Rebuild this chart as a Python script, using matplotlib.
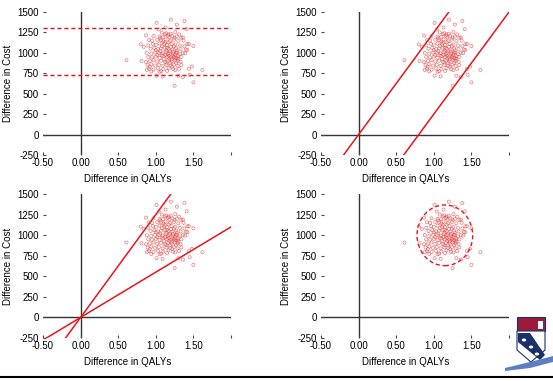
import matplotlib
matplotlib.use("Agg")
import matplotlib.pyplot as plt
from matplotlib.patches import Ellipse, Rectangle, Polygon, Circle

plt.rcParams['font.family'] = ['Liberation Sans', 'DejaVu Sans']

# simulated incremental QALYs / costs (same cloud in every panel)
qaly = [0.61, 0.81, 0.80, 0.84, 0.87, 0.88, 0.91, 1.01, 1.04, 1.20, 1.28, 1.38, 1.41, 1.36, 1.42, 1.44, 1.50,
        1.42, 1.39, 1.44, 1.48, 1.62, 1.50, 1.25, 1.36, 1.30, 1.09, 1.01, 0.94, 1.05, 1.45, 1.23, 1.13, 1.17,
        1.08, 1.14, 1.20, 1.26, 1.12, 1.31,
        0.97, 1.05, 1.10, 1.16, 1.22, 1.28, 1.18, 1.34,
        0.95, 1.02, 1.07, 1.13, 1.19, 1.24, 1.30, 1.37, 1.10,
        0.90, 0.96, 1.00, 1.05, 1.11, 1.15, 1.21, 1.26, 1.32, 1.38, 1.08,
        0.93, 0.98, 1.03, 1.07, 1.12, 1.17, 1.22, 1.27, 1.33, 1.40, 1.14,
        0.88, 0.94, 0.99, 1.04, 1.09, 1.13, 1.18, 1.23, 1.28, 1.32, 1.36, 1.16, 1.26,
        0.90, 0.95, 1.00, 1.05, 1.10, 1.15, 1.20, 1.24, 1.27, 1.30, 1.34, 1.18, 1.29, 1.22,
        0.87, 0.92, 0.97, 1.02, 1.07, 1.12, 1.16, 1.21, 1.25, 1.29, 1.33, 1.14, 1.27, 1.19,
        0.89, 0.94, 0.99, 1.04, 1.09, 1.14, 1.19, 1.24, 1.29, 1.34, 0.92, 1.22,
        0.91, 0.97, 1.03, 1.10, 1.17, 1.26, 1.31, 1.15, 1.07,
        1.11, 1.13, 1.17, 1.19, 1.21, 1.23, 1.25, 1.27, 1.15, 1.20, 1.24, 1.06, 1.08, 1.02, 1.00, 1.28,
        1.30, 1.12, 1.17, 1.06, 1.25]
cost = [910, 901, 1104, 1075, 1213, 792, 1156, 1367, 1286, 1407, 1346, 1391, 1290, 1189, 1108, 1108, 1083,
        1035, 995, 805, 833, 792, 639, 598, 703, 720, 712, 720, 772, 768, 732, 800, 1310, 1225,
        1250, 1240, 1235, 1255, 1228, 1225,
        1205, 1200, 1195, 1210, 1205, 1200, 1190, 1185,
        1150, 1160, 1155, 1165, 1150, 1160, 1145, 1150, 1140,
        1090, 1110, 1100, 1115, 1105, 1095, 1110, 1100, 1090, 1080, 1085,
        1050, 1060, 1045, 1055, 1060, 1050, 1040, 1055, 1045, 1040, 1030,
        1000, 990, 1005, 1000, 995, 1010, 1000, 990, 1005, 985, 1000, 985, 980,
        950, 945, 955, 940, 960, 950, 945, 955, 940, 960, 950, 930, 935, 965,
        890, 900, 910, 895, 905, 890, 905, 895, 910, 900, 890, 880, 880, 875,
        850, 860, 845, 855, 840, 850, 845, 855, 840, 850, 830, 830,
        805, 795, 810, 800, 815, 790, 805, 780, 775,
        925, 975, 965, 1020, 920, 1015, 935, 1000, 1065, 1075, 1080, 1020, 970, 975, 1035, 1030,
        920, 1125, 1130, 1180, 1185]

xticks = [-0.5, 0.0, 0.5, 1.0, 1.5, 2.0]
xticklabels = ['-0.50', '0.00', '0.50', '1.00', '1.50', '']
yticks = [-250, 0, 250, 500, 750, 1000, 1250, 1500]

# threshold / decision lines
band_lo, band_hi = 725, 1310
wtp_steep = 1250
shift_q = 0.8
wtp_flat = 550
ell_center = (1.147, 998)
ell_w, ell_h = 0.74, 738

red = '#e8141c'

fig = plt.figure(figsize=(5.53, 3.81), dpi=100)
W, H = 553, 381


def make_ax(left, top, right, bottom):
    return fig.add_axes([left / W, 1 - bottom / H, (right - left) / W, (bottom - top) / H])


def setup(ax):
    ax.set_xlim(-0.5, 2.0)
    ax.set_ylim(-250, 1500)
    for s in ax.spines.values():
        s.set_visible(False)
    ax.axhline(0, color='#333333', lw=1.0, zorder=1)
    ax.axvline(0, color='#333333', lw=1.0, zorder=1)
    ax.set_xticks(xticks)
    ax.set_xticklabels(xticklabels)
    ax.set_yticks(yticks)
    ax.set_yticklabels([str(v) for v in yticks])
    ax.tick_params(direction='in', length=2.5, width=0.8, color='#444444', labelsize=7)
    ax.tick_params(axis='y', pad=3)
    ax.tick_params(axis='x', pad=2.5)
    ax.set_xlabel('Difference in QALYs', fontsize=7)
    ax.set_ylabel('Difference in Cost', fontsize=7)
    ax.xaxis.set_label_coords(0.452, -0.13)
    ax.yaxis.set_label_coords(-0.16, 0.5)
    ax.scatter(qaly, cost, s=5, facecolors='none', edgecolors='#e04040', linewidths=0.5, alpha=0.7, zorder=3)


ax1 = make_ax(43, 12, 231, 155)
ax2 = make_ax(321, 12, 509, 155)
ax3 = make_ax(43, 194, 231, 338)
ax4 = make_ax(321, 194, 509, 338)
for ax in [ax1, ax2, ax3, ax4]:
    setup(ax)

# panel 1: horizontal cost thresholds
ax1.axhline(band_hi, color=red, lw=1.0, ls=(0, (3, 2)), zorder=2)
ax1.axhline(band_lo, color=red, lw=1.0, ls=(0, (3, 2)), zorder=2)

# panel 2: two parallel lines
xs = [-0.5, 2.0]
ax2.plot(xs, [wtp_steep * x for x in xs], color=red, lw=1.1, zorder=2)
ax2.plot(xs, [wtp_steep * (x - shift_q) for x in xs], color=red, lw=1.1, zorder=2)

# panel 3: two rays through origin
ax3.plot(xs, [wtp_steep * x for x in xs], color=red, lw=1.1, zorder=2)
ax3.plot(xs, [wtp_flat * x for x in xs], color=red, lw=1.1, zorder=2)

# panel 4: confidence ellipse
ax4.add_patch(Ellipse(ell_center, ell_w, ell_h, fill=False, edgecolor=red, lw=1.0, ls=(0, (3, 2)), zorder=2))

# bottom rule
fig.add_artist(plt.Line2D([0, 1], [1 - 377 / H, 1 - 377 / H], color='black', lw=1.5))

# rough shield logo bottom right
def fx(p):
    return p / W


def fy(p):
    return 1 - p / H


fig.add_artist(Rectangle((fx(517), fy(331)), fx(28), 14 / H, facecolor='#9b1c3a', edgecolor='#1b2f6b', lw=0.8))
fig.add_artist(Rectangle((fx(538), fy(329)), 5 / W, 8 / H, facecolor='white', edgecolor='none'))
fig.add_artist(Polygon([(fx(517), fy(331)), (fx(545), fy(331)), (fx(545), fy(350)), (fx(531), fy(362)),
                        (fx(517), fy(350))], closed=True, facecolor='white', edgecolor='#1b2f6b', lw=0.8))
fig.add_artist(Polygon([(fx(518), fy(333)), (fx(530), fy(333)), (fx(545), fy(355)), (fx(540), fy(360)),
                        (fx(518), fy(342))], closed=True, facecolor='#1b2f6b', edgecolor='none'))
for cx, cy in [(524, 340), (531, 347), (537, 354)]:
    fig.add_artist(Circle((fx(cx), fy(cy)), 2.2 / W, facecolor='white', edgecolor='none', transform=fig.transFigure))
fig.add_artist(Polygon([(fx(505), fy(368)), (fx(530), fy(362)), (fx(553), fy(356)), (fx(553), fy(362)),
                        (fx(530), fy(368)), (fx(505), fy(371))], closed=True, facecolor='#5b7fc0', edgecolor='none'))

fig.savefig('out.png', dpi=100)
